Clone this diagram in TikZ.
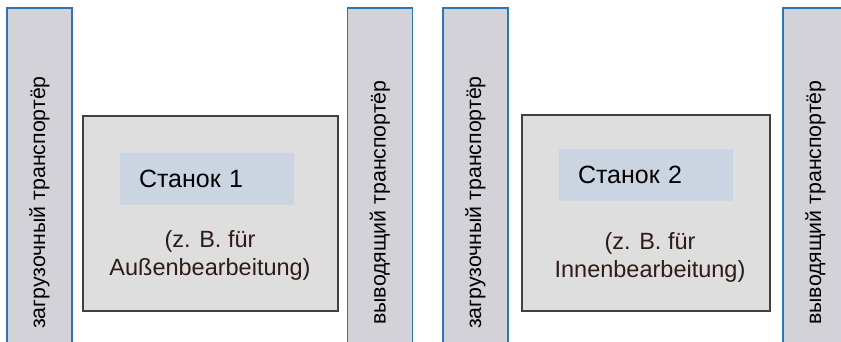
\documentclass[tikz,border=0pt]{standalone}
\usepackage{fontspec}
\setmainfont{Liberation Sans}
\definecolor{convblue}{HTML}{2E75B6}
\definecolor{convgray}{HTML}{D3D2D8}
\definecolor{machgray}{HTML}{DEDEDE}
\definecolor{machline}{HTML}{404040}
\definecolor{taggray}{HTML}{CBD5E1}
\definecolor{notebrown}{HTML}{2E1C16}
\usetikzlibrary{positioning}

\begin{document}
\begin{tikzpicture}[x=1pt, y=-1pt, every node/.append style={align=center, inner sep=0pt},
	conveyor/.style={draw=convblue, line width=1.3pt, fill=convgray, minimum width=65pt, minimum height=340pt},
	convtext/.style={rotate=90, font=\fontsize{21.3}{26}\selectfont},
	machine/.style={draw=machline, line width=1.3pt, fill=machgray},
	tag/.style={fill=taggray, minimum height=52pt, text width=136pt, inner xsep=19pt, align=left, font=\fontsize{25}{30}\selectfont},
	note/.style={text=notebrown, font=\fontsize{23.5}{28}\selectfont}]
	\clip (0,0) rectangle (841,341);
		% transporters
		\foreach \x/\name/\txt in {39.5/in1/загрузочный, 380/out1/выводящий, 475.5/in2/загрузочный, 815.5/out2/выводящий} {
			\node[conveyor] (\name) at (\x, 178) {};
			\node[convtext] (\name txt) at (\x, 202.5) {\txt\ транспортёр};
		};
		% machines
		\node[machine, minimum width=255pt, minimum height=195pt] at (210.5, 213.5) (m1){};
		\node[tag] at (207, 179) (tag1){Станок 1};
		\node[note] at (210, 255.5) (note1){(z. B. für\\Außenbearbeitung)};
		\node[machine, minimum width=248pt, minimum height=196pt] at (646, 213) (m2){};
		\node[tag] at (646, 175) (tag2){Станок 2};
		\node[note] at (650, 257) (note2){(z. B. für\\Innenbearbeitung)};
	\end{tikzpicture}
\end{document}
